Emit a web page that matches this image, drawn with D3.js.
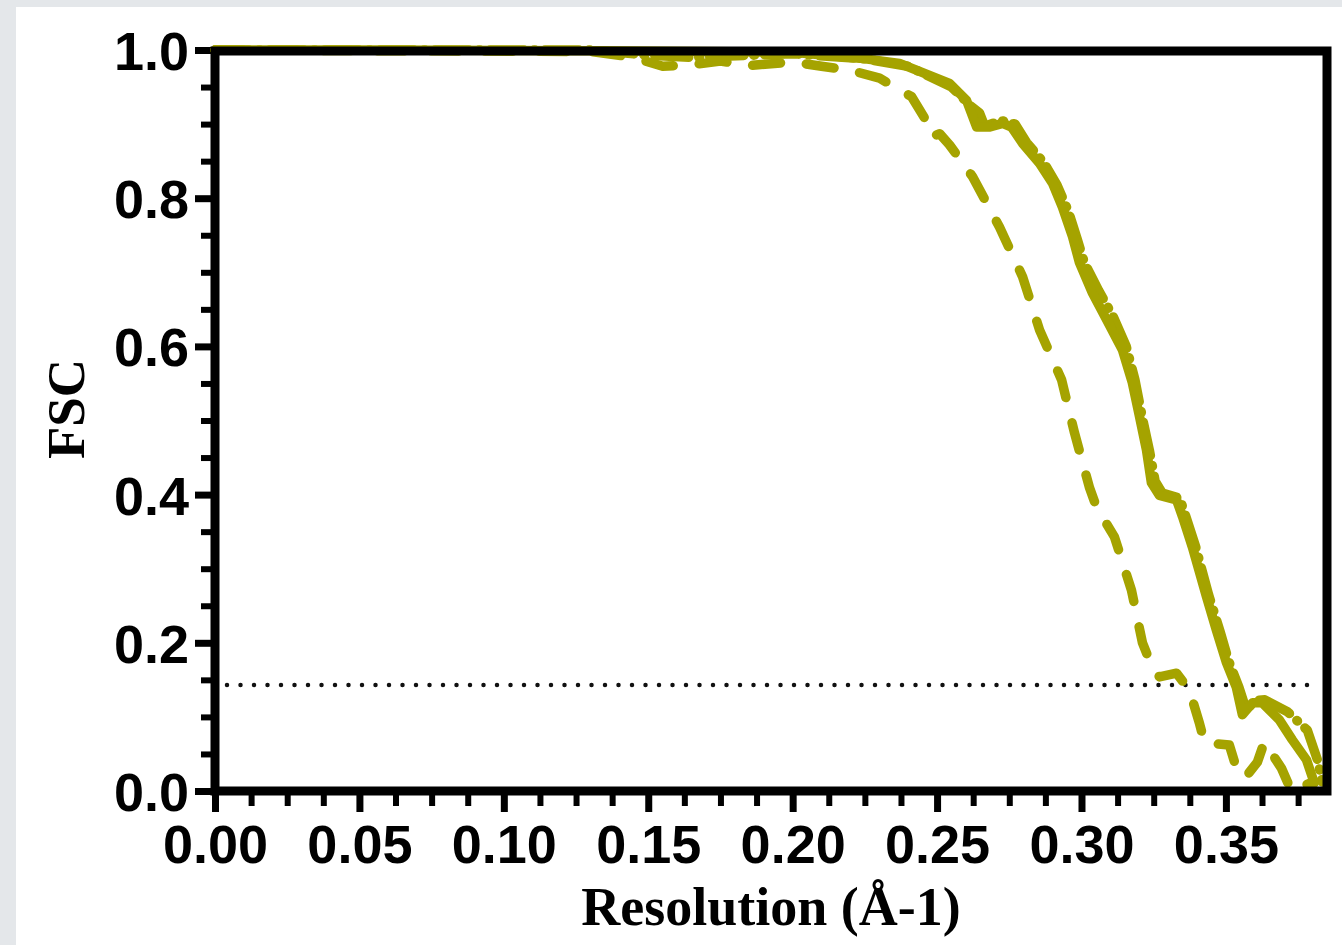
<!DOCTYPE html>
<html>
<head>
<meta charset="utf-8">
<script src="https://cdn.jsdelivr.net/npm/d3@7/dist/d3.min.js"></script>
<style>
  html, body { margin: 0; padding: 0; background: #ffffff; overflow: hidden; width: 1342px; height: 945px; }
  svg { display: block; position: absolute; left: 0; top: 0; }
</style>
</head>
<body>
<svg id="chart" width="1342" height="945"></svg>
<script>
// FSC curves: [resolution (1/Å), correlation]
const fscSolid = [
  [0.000, 1.000], [0.060, 1.000], [0.133, 0.999], [0.200, 0.997], [0.2232, 0.989],
  [0.237, 0.982], [0.2543, 0.955], [0.2602, 0.932], [0.2637, 0.896], [0.268, 0.896],
  [0.2727, 0.901], [0.2758, 0.896], [0.2796, 0.874], [0.2855, 0.847], [0.290, 0.820],
  [0.2934, 0.788], [0.2969, 0.748], [0.2993, 0.713], [0.3038, 0.672], [0.3087, 0.636],
  [0.3142, 0.595], [0.3176, 0.551], [0.3201, 0.505], [0.3225, 0.460], [0.3242, 0.416],
  [0.327, 0.399], [0.3329, 0.393], [0.335, 0.370], [0.3384, 0.329], [0.3433, 0.262],
  [0.3467, 0.217], [0.3502, 0.173], [0.3536, 0.140], [0.3557, 0.103], [0.3592, 0.119],
  [0.3626, 0.119], [0.3685, 0.096], [0.373, 0.069], [0.3779, 0.042], [0.3806, 0.011]
];

const fscDashDot = [
  [0.000, 1.000], [0.130, 1.000], [0.150, 0.993], [0.165, 0.990], [0.200, 0.995],
  [0.225, 0.988], [0.240, 0.978], [0.255, 0.950], [0.2615, 0.925], [0.2647, 0.915],
  [0.2665, 0.897], [0.272, 0.905], [0.277, 0.900], [0.281, 0.875], [0.287, 0.848],
  [0.2915, 0.818], [0.2955, 0.782], [0.2985, 0.745], [0.301, 0.713], [0.306, 0.675],
  [0.311, 0.640], [0.3155, 0.600], [0.3185, 0.555], [0.321, 0.505], [0.3235, 0.460],
  [0.3255, 0.418], [0.328, 0.402], [0.334, 0.395], [0.336, 0.372], [0.3395, 0.330],
  [0.344, 0.265], [0.348, 0.215], [0.351, 0.175], [0.3545, 0.140], [0.357, 0.110],
  [0.3605, 0.122], [0.3635, 0.123], [0.3713, 0.107], [0.3782, 0.082], [0.3817, 0.042],
  [0.3834, 0.012]
];

const fscDashed = [
  [0.000, 1.000], [0.130, 0.998], [0.145, 0.990], [0.155, 0.978], [0.165, 0.980],
  [0.175, 0.985], [0.185, 0.979], [0.200, 0.984], [0.210, 0.978], [0.2197, 0.973],
  [0.2301, 0.962], [0.2412, 0.937], [0.2457, 0.908], [0.2481, 0.883], [0.2509, 0.887],
  [0.2543, 0.872], [0.2623, 0.829], [0.2716, 0.761], [0.2796, 0.694], [0.2855, 0.622],
  [0.2931, 0.555], [0.2976, 0.483], [0.3028, 0.409], [0.3052, 0.383], [0.3114, 0.343],
  [0.3173, 0.271], [0.3211, 0.200], [0.3242, 0.170], [0.327, 0.154], [0.3329, 0.159],
  [0.3374, 0.136], [0.3408, 0.092], [0.3426, 0.065], [0.3512, 0.062], [0.3533, 0.035],
  [0.3567, 0.018], [0.3609, 0.039], [0.3633, 0.066], [0.3692, 0.031], [0.3727, 0.000],
  [0.3806, 0.013]
];

const threshold = 0.143;

const xMajorTicks = [0.00, 0.05, 0.10, 0.15, 0.20, 0.25, 0.30, 0.35];
const yMajorTicks = [0.0, 0.2, 0.4, 0.6, 0.8, 1.0];
const xMinorStep = 0.0125;
const yMinorStep = 0.05;

const xTitle = "Resolution (Å-1)";
const yTitle = "FSC";

// layout
const W = 1342, H = 945;
const plot = { left: 215, right: 1327, top: 50, bottom: 791 };
const curveColor = "#a5a300";
const marginGrey = "#e4e7ea";

const svg = d3.select("#chart");

// white page with thin grey strips along the top and left edges
svg.append("rect").attr("x", 0).attr("y", 0).attr("width", W).attr("height", H).attr("fill", "#ffffff");
svg.append("rect").attr("x", 0).attr("y", 0).attr("width", W).attr("height", 7).attr("fill", marginGrey);
svg.append("rect").attr("x", 0).attr("y", 0).attr("width", 16).attr("height", H).attr("fill", marginGrey);

const x = d3.scaleLinear().domain([0, 0.385]).range([plot.left, plot.right]);
const y = d3.scaleLinear().domain([0, 1]).range([plot.bottom, plot.top]);

const xMinor = d3.range(0, 0.385 + 1e-9, xMinorStep).filter(v => !xMajorTicks.some(t => Math.abs(t - v) < 1e-6));
const yMinor = d3.range(0, 1 + 1e-9, yMinorStep).filter(v => !yMajorTicks.some(t => Math.abs(t - v) < 1e-6));

const labelFont = "'Liberation Sans', Arial, Helvetica, sans-serif";
const titleFont = "'Liberation Serif', 'Times New Roman', Times, serif";

// minor ticks
svg.append("g")
  .attr("transform", `translate(${plot.left},0)`)
  .call(d3.axisLeft(y).tickValues(yMinor).tickSize(14).tickSizeOuter(0).tickFormat(""))
  .call(g => g.select(".domain").remove())
  .call(g => g.selectAll("line").attr("stroke", "#000").attr("stroke-width", 6));

svg.append("g")
  .attr("transform", `translate(0,${plot.bottom})`)
  .call(d3.axisBottom(x).tickValues(xMinor).tickSize(15).tickSizeOuter(0).tickFormat(""))
  .call(g => g.select(".domain").remove())
  .call(g => g.selectAll("line").attr("stroke", "#000").attr("stroke-width", 6));

// major ticks with labels
svg.append("g")
  .attr("transform", `translate(${plot.left},0)`)
  .call(d3.axisLeft(y).tickValues(yMajorTicks).tickSize(20).tickSizeOuter(0).tickPadding(6).tickFormat(d3.format(".1f")))
  .call(g => g.select(".domain").remove())
  .call(g => g.selectAll("line").attr("stroke", "#000").attr("stroke-width", 7))
  .call(g => g.selectAll("text")
    .attr("fill", "#000")
    .attr("font-family", labelFont)
    .attr("font-weight", "bold")
    .attr("font-size", 54)
    .attr("dy", "0.36em"));

svg.append("g")
  .attr("transform", `translate(0,${plot.bottom})`)
  .call(d3.axisBottom(x).tickValues(xMajorTicks).tickSize(21).tickSizeOuter(0).tickPadding(13).tickFormat(d3.format(".2f")))
  .call(g => g.select(".domain").remove())
  .call(g => g.selectAll("line").attr("stroke", "#000").attr("stroke-width", 7))
  .call(g => g.selectAll("text")
    .attr("fill", "#000")
    .attr("font-family", labelFont)
    .attr("font-weight", "bold")
    .attr("font-size", 54)
    .attr("dy", "0.71em"));

// FSC = 0.143 threshold
svg.append("line")
  .attr("x1", x(0) + 12).attr("x2", plot.right - 10)
  .attr("y1", y(threshold)).attr("y2", y(threshold))
  .attr("stroke", "#111")
  .attr("stroke-width", 4.5)
  .attr("stroke-linecap", "round")
  .attr("stroke-dasharray", "0 13.5");

// curves
const line = d3.line().x(d => x(d[0])).y(d => y(d[1]));

const curves = [
  { data: fscDashed, dash: "28 26" },
  { data: fscDashDot, dash: "34 10 1 10" },
  { data: fscSolid, dash: null }
];

svg.append("g").selectAll("path")
  .data(curves)
  .join("path")
  .attr("d", d => line(d.data))
  .attr("fill", "none")
  .attr("stroke", curveColor)
  .attr("stroke-width", 9.5)
  .attr("stroke-linecap", "round")
  .attr("stroke-linejoin", "round")
  .attr("stroke-dasharray", d => d.dash);

// frame
svg.append("rect")
  .attr("x", plot.left).attr("y", plot.top + 1)
  .attr("width", plot.right - plot.left)
  .attr("height", plot.bottom - plot.top - 1)
  .attr("fill", "none")
  .attr("stroke", "#000")
  .attr("stroke-width", 9);

// axis titles
svg.append("text")
  .attr("x", (plot.left + plot.right) / 2)
  .attr("y", 925)
  .attr("text-anchor", "middle")
  .attr("font-family", titleFont)
  .attr("font-weight", "bold")
  .attr("font-size", 54)
  .attr("fill", "#000")
  .text(xTitle);

svg.append("text")
  .attr("transform", `translate(84,409) rotate(-90)`)
  .attr("text-anchor", "middle")
  .attr("font-family", titleFont)
  .attr("font-weight", "bold")
  .attr("font-size", 53)
  .attr("fill", "#000")
  .text(yTitle);
</script>
</body>
</html>
